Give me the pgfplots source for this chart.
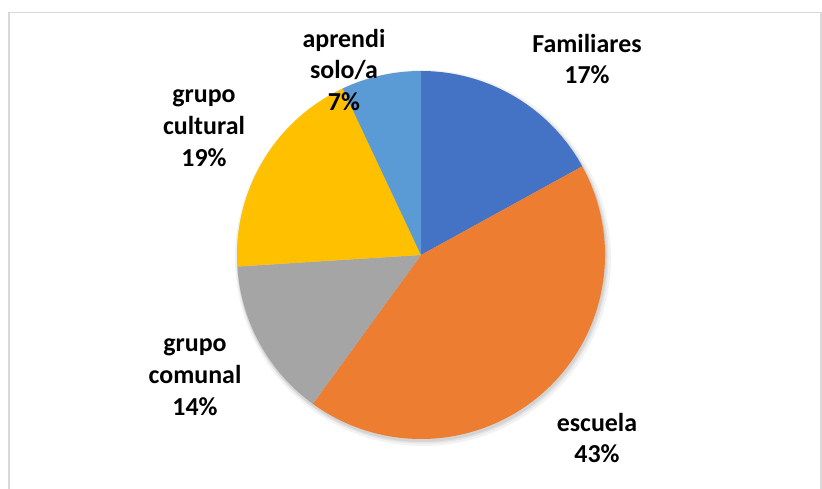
\documentclass[border=0pt]{standalone}
\usepackage{pgfplots}
\usepackage{pgfplotstable}
\pgfplotsset{compat=1.18}
\usepackage{fontspec}
\setmainfont{Carlito}

\definecolor{cfam}{HTML}{4472C4}
\definecolor{cesc}{HTML}{ED7D31}
\definecolor{ccom}{HTML}{A5A5A5}
\definecolor{ccul}{HTML}{FFC000}
\definecolor{csol}{HTML}{5B9BD5}
\definecolor{frame}{HTML}{D9D9D9}

% share (%), slice colour, label centre in chart pixels
\pgfplotstableread[col sep=comma]{
label,value,color,lx,ly
{Familiares},17,cfam,587,430
{escuela},43,cesc,597,51
{grupo\\comunal},14,ccom,195,112
{grupo\\cultural},19,ccul,204,361
{aprendi\\solo/a},7,csol,344,419
}\piedata

\def\cx{421}\def\cy{234}\def\rad{184bp}
\newcommand\lblfont{\fontsize{26}{32}\selectfont\bfseries}

% build the slices and labels from the table, clockwise from 12 o'clock
\pgfplotstablegetrowsof{\piedata}
\pgfmathtruncatemacro\nrows{\pgfplotsretval-1}
\gdef\pieslices{}
\gdef\pielabels{}
\xdef\curang{90}
\foreach \i in {0,...,\nrows}{%
  \pgfplotstablegetelem{\i}{value}\of\piedata \let\v\pgfplotsretval
  \pgfplotstablegetelem{\i}{color}\of\piedata \let\c\pgfplotsretval
  \pgfplotstablegetelem{\i}{label}\of\piedata \let\lbl\pgfplotsretval
  \pgfplotstablegetelem{\i}{lx}\of\piedata \let\lx\pgfplotsretval
  \pgfplotstablegetelem{\i}{ly}\of\piedata \let\ly\pgfplotsretval
  \pgfmathsetmacro\endang{\curang-3.6*\v}
  \xdef\pieslices{\unexpanded\expandafter{\pieslices}%
    \noexpand\fill[\c] (axis cs:\cx,\cy) -- ++(\curang:\rad)
      arc[start angle=\curang, end angle=\endang, radius=\rad] -- cycle;}
  \xdef\pielabels{\unexpanded\expandafter{\pielabels}%
    \noexpand\node[align=center, font=\noexpand\lblfont] at (axis cs:\lx,\ly)
      {\unexpanded\expandafter{\lbl}\noexpand\\\v\noexpand\%};}
  \global\let\curang\endang
}

\begin{document}
\begin{tikzpicture}
\begin{axis}[
    name=pie,
    x=1bp, y=1bp,
    xmin=0, xmax=822, ymin=0, ymax=489,
    axis lines=none,
    clip=true,
  ]
  \draw[frame, line width=1.2bp] (axis cs:9,0) -- (axis cs:9,476.5) -- (axis cs:821,476.5) -- (axis cs:821,0);
  % soft shadow under the pie
  \fill[black, opacity=0.05] (axis cs:423,231) circle[radius=188bp];
  \fill[black, opacity=0.06] (axis cs:422.5,231.5) circle[radius=186bp];
  \fill[black, opacity=0.07] (axis cs:422,232) circle[radius=185bp];
  \pieslices
  \pielabels
\end{axis}
\pgfresetboundingbox
\useasboundingbox (pie.south west) rectangle (pie.north east);
\end{tikzpicture}
\end{document}
